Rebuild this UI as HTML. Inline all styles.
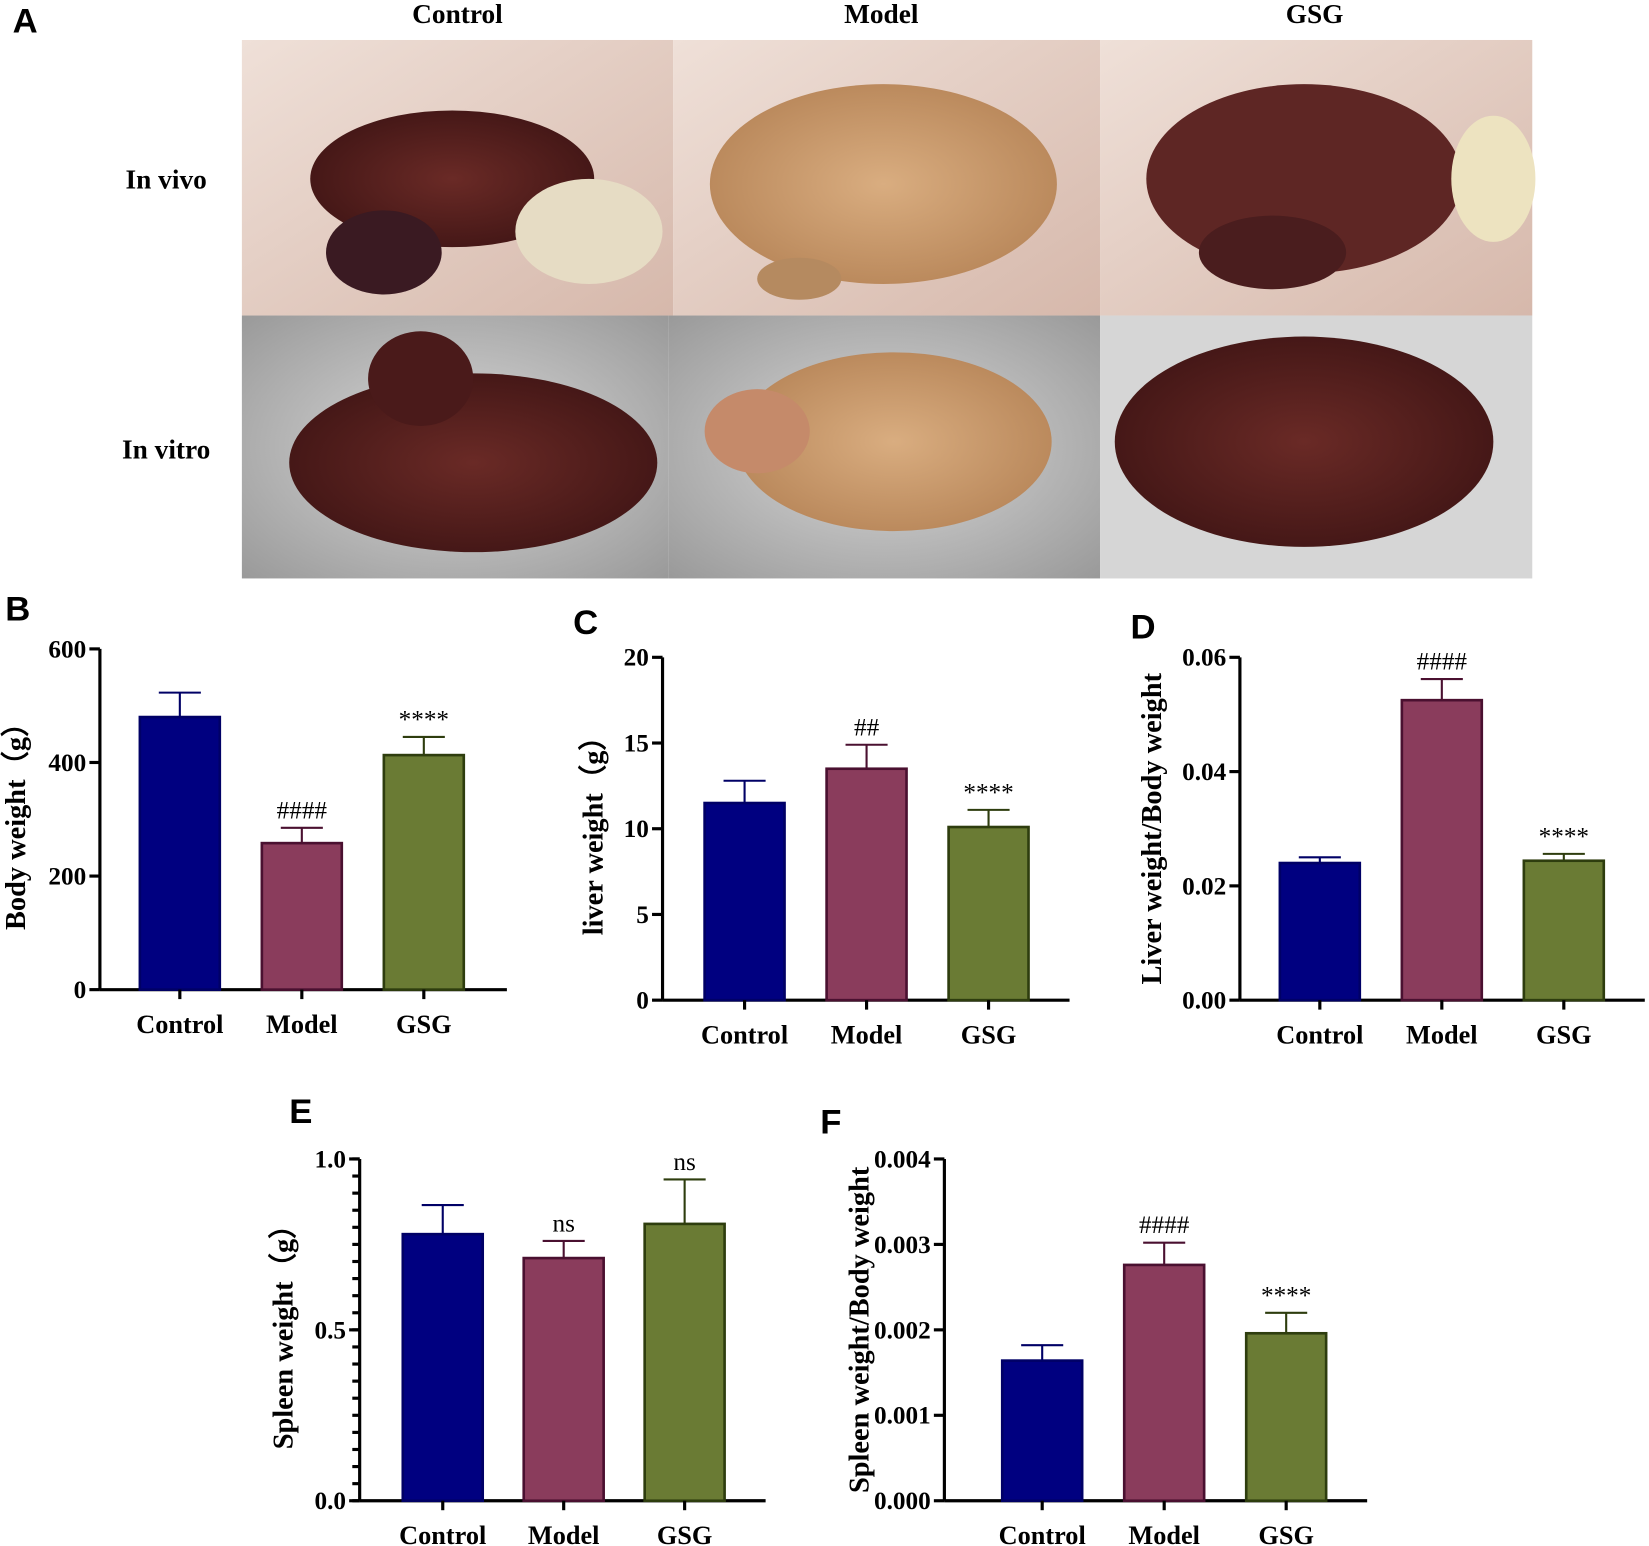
<!DOCTYPE html>
<html><head><meta charset="utf-8"><style>
html,body{margin:0;padding:0;background:#fff;}
svg{display:block;}
.lt{font-family:"Liberation Serif",serif;font-weight:bold;}
.pl{font-family:"Liberation Sans",sans-serif;font-weight:bold;}
</style></head><body>
<svg id="fig" width="1649" height="1546" viewBox="0 0 1568 1470" xmlns="http://www.w3.org/2000/svg">
<defs>
<radialGradient id="liverDark" cx="50%" cy="50%" r="60%"><stop offset="0" stop-color="#6a2a26"/><stop offset="1" stop-color="#3e1414"/></radialGradient>
<radialGradient id="liverPale" cx="50%" cy="50%" r="60%"><stop offset="0" stop-color="#d9ad80"/><stop offset="1" stop-color="#b58356"/></radialGradient>
<linearGradient id="tissue" x1="0" y1="0" x2="1" y2="1"><stop offset="0" stop-color="#efe0d8"/><stop offset="1" stop-color="#d6b8ab"/></linearGradient>
<radialGradient id="dish" cx="50%" cy="50%" r="70%"><stop offset="0" stop-color="#d8d8d8"/><stop offset="1" stop-color="#9a9a9a"/></radialGradient>
</defs>
<g id="panelA">
<text class="pl" x="12" y="31" font-size="33">A</text>
<text class="lt" x="435" y="22" font-size="26" text-anchor="middle">Control</text>
<text class="lt" x="838" y="22" font-size="26" text-anchor="middle">Model</text>
<text class="lt" x="1250" y="22" font-size="26" text-anchor="middle">GSG</text>
<text class="lt" x="158" y="179" font-size="26" text-anchor="middle">In vivo</text>
<text class="lt" x="158" y="436" font-size="26" text-anchor="middle">In vitro</text>
<g>
<rect x="230" y="38" width="410" height="262" fill="url(#tissue)"/>
<ellipse cx="430" cy="170" rx="135" ry="65" fill="url(#liverDark)"/>
<ellipse cx="365" cy="240" rx="55" ry="40" fill="#3a1a22"/>
<ellipse cx="560" cy="220" rx="70" ry="50" fill="#e6dcc4"/>
</g>
<g>
<rect x="640" y="38" width="406" height="262" fill="url(#tissue)"/>
<ellipse cx="840" cy="175" rx="165" ry="95" fill="url(#liverPale)"/>
<ellipse cx="760" cy="265" rx="40" ry="20" fill="#b58a60"/>
</g>
<g>
<rect x="1046" y="38" width="411" height="262" fill="url(#tissue)"/>
<ellipse cx="1240" cy="170" rx="150" ry="90" fill="#5e2624"/>
<ellipse cx="1210" cy="240" rx="70" ry="35" fill="#4a1d1e"/>
<ellipse cx="1420" cy="170" rx="40" ry="60" fill="#ede3c0"/>
</g>
<g>
<rect x="230" y="300" width="406" height="250" fill="url(#dish)"/>
<ellipse cx="450" cy="440" rx="175" ry="85" fill="url(#liverDark)"/>
<ellipse cx="400" cy="360" rx="50" ry="45" fill="#4a1a1a"/>
</g>
<g>
<rect x="636" y="300" width="410" height="250" fill="url(#dish)"/>
<ellipse cx="850" cy="420" rx="150" ry="85" fill="url(#liverPale)"/>
<ellipse cx="720" cy="410" rx="50" ry="40" fill="#c58a6a"/>
</g>
<g>
<rect x="1046" y="300" width="411" height="250" fill="#d6d6d6"/>
<ellipse cx="1240" cy="420" rx="180" ry="100" fill="url(#liverDark)"/>
</g>
</g>
<g id="charts"></g>
</svg>
<script>
const categories = ["Control","Model","GSG"];
const bodyWeight = [480,258,413];
const bodyWeightErr = [523,285,445];
const bodyWeightMarks = ["","####","****"];
const bodyTicks = [0,200,400,600];
const liverWeight = [11.5,13.5,10.1];
const liverWeightErr = [12.8,14.9,11.1];
const liverMarks = ["","##","****"];
const liverTicks = [0,5,10,15,20];
const liverRatio = [0.024,0.0525,0.0244];
const liverRatioErr = [0.025,0.0562,0.0256];
const liverRatioMarks = ["","####","****"];
const liverRatioTicks = [0,0.02,0.04,0.06];
const liverRatioTickLabels = ["0.00","0.02","0.04","0.06"];
const spleenWeight = [0.78,0.71,0.81];
const spleenWeightErr = [0.865,0.76,0.94];
const spleenMarks = ["","ns","ns"];
const spleenTicks = [0,0.5,1.0];
const spleenTickLabels = ["0.0","0.5","1.0"];
const spleenRatio = [0.00164,0.00276,0.00196];
const spleenRatioErr = [0.00182,0.00302,0.0022];
const spleenRatioMarks = ["","####","****"];
const spleenRatioTicks = [0,0.001,0.002,0.003,0.004];
const spleenRatioTickLabels = ["0.000","0.001","0.002","0.003","0.004"];

const NS="http://www.w3.org/2000/svg";
const root=document.getElementById('charts');
const fills=["#000080","#8a3c5c","#6a7b34"];
const strokes=["#000066","#4a1030","#2e3d0e"];
function mk(tag,attrs,parent){const e=document.createElementNS(NS,tag);for(const k in attrs)e.setAttribute(k,attrs[k]);parent.appendChild(e);return e;}

function chart(cfg){
 const g=mk('g',{},root);
 
 
 const max=cfg.ticks[cfg.ticks.length-1];
 const y=v=>cfg.bottom-(v/max)*(cfg.bottom-cfg.top);
 const pl=mk('text',{x:cfg.lx,y:cfg.ly,'font-size':33,class:'pl'},g);
 pl.textContent=cfg.letter;
 
 
 const ax=mk('g',{},g);
 
 
 mk('line',{x1:cfg.ax,y1:cfg.top,x2:cfg.ax,y2:cfg.bottom,stroke:'#000','stroke-width':3},ax);
 const xa=mk('line',{x1:cfg.ax,y1:cfg.bottom,x2:cfg.xEnd,y2:cfg.bottom,stroke:'#000','stroke-width':3},g);
 
 
 if(cfg.minor){for(let v=0;v<=max+1e-9;v+=cfg.minor){mk('line',{x1:cfg.ax-7,y1:y(v),x2:cfg.ax,y2:y(v),stroke:'#000','stroke-width':3},ax);}}
 cfg.ticks.forEach((t,i)=>{
  mk('line',{x1:cfg.ax-10,y1:y(t),x2:cfg.ax,y2:y(t),stroke:'#000','stroke-width':3},ax);
  const tl=mk('text',{x:cfg.ax-13,y:y(t)+8,'font-size':24,'text-anchor':'end',class:'lt'},ax);
  tl.textContent=cfg.labels?cfg.labels[i]:String(t);
  
  
 });
 const yt=mk('text',{x:0,y:0,'font-size':27,'text-anchor':'middle',class:'lt',transform:`translate(${cfg.tx},${(cfg.top+cfg.bottom)/2}) rotate(-90)`},g);
 yt.textContent=cfg.title;
 
 
 const bw=76;
 categories.forEach((c,i)=>{
  const cx=cfg.x0+i*cfg.step;
  const eb=mk('g',{},g);
  
  
  mk('line',{x1:cx,y1:y(cfg.vals[i]),x2:cx,y2:y(cfg.errs[i]),stroke:strokes[i],'stroke-width':2},eb);
  mk('line',{x1:cx-20,y1:y(cfg.errs[i]),x2:cx+20,y2:y(cfg.errs[i]),stroke:strokes[i],'stroke-width':2},eb);
  const b=mk('rect',{x:cx-bw/2,y:y(cfg.vals[i]),width:bw,height:cfg.bottom-y(cfg.vals[i]),fill:fills[i],stroke:strokes[i],'stroke-width':2.5},g);
  
  
  if(cfg.marks[i]){
   const m=mk('text',{x:cx,y:y(cfg.errs[i])-9,'font-size':24,'text-anchor':'middle','font-family':'Liberation Serif, serif'},g);
   m.textContent=cfg.marks[i];
   
   
  }
  mk('line',{x1:cx,y1:cfg.bottom,x2:cx,y2:cfg.bottom+9,stroke:'#000','stroke-width':3},g);
  const xl=mk('text',{x:cx,y:cfg.bottom+41,'font-size':25,'text-anchor':'middle',class:'lt'},g);
  xl.textContent=c;
  
  
 });
}
chart({name:'chart-b-body-weight',letter:'B',lx:5,ly:590,ax:95,top:617,bottom:941,xEnd:482,x0:171,step:116,ticks:bodyTicks,vals:bodyWeight,errs:bodyWeightErr,marks:bodyWeightMarks,title:'Body weight（g）',tx:24});
chart({name:'chart-c-liver-weight',letter:'C',lx:545,ly:603,ax:630,top:625,bottom:951,xEnd:1017,x0:708,step:116,ticks:liverTicks,vals:liverWeight,errs:liverWeightErr,marks:liverMarks,title:'liver weight（g）',tx:573});
chart({name:'chart-d-liver-ratio',letter:'D',lx:1075,ly:607,ax:1179,top:625,bottom:951,xEnd:1564,x0:1255,step:116,ticks:liverRatioTicks,labels:liverRatioTickLabels,vals:liverRatio,errs:liverRatioErr,marks:liverRatioMarks,title:'Liver weight/Body weight',tx:1104});
chart({name:'chart-e-spleen-weight',letter:'E',lx:275,ly:1068,ax:342,top:1102,bottom:1427,xEnd:728,x0:421,step:115,ticks:spleenTicks,labels:spleenTickLabels,minor:0.05,vals:spleenWeight,errs:spleenWeightErr,marks:spleenMarks,title:'Spleen weight（g）',tx:278});
chart({name:'chart-f-spleen-ratio',letter:'F',lx:780,ly:1078,ax:898,top:1102,bottom:1427,xEnd:1300,x0:991,step:116,ticks:spleenRatioTicks,labels:spleenRatioTickLabels,vals:spleenRatio,errs:spleenRatioErr,marks:spleenRatioMarks,title:'Spleen weight/Body weight',tx:826});
</script>
</body></html>
